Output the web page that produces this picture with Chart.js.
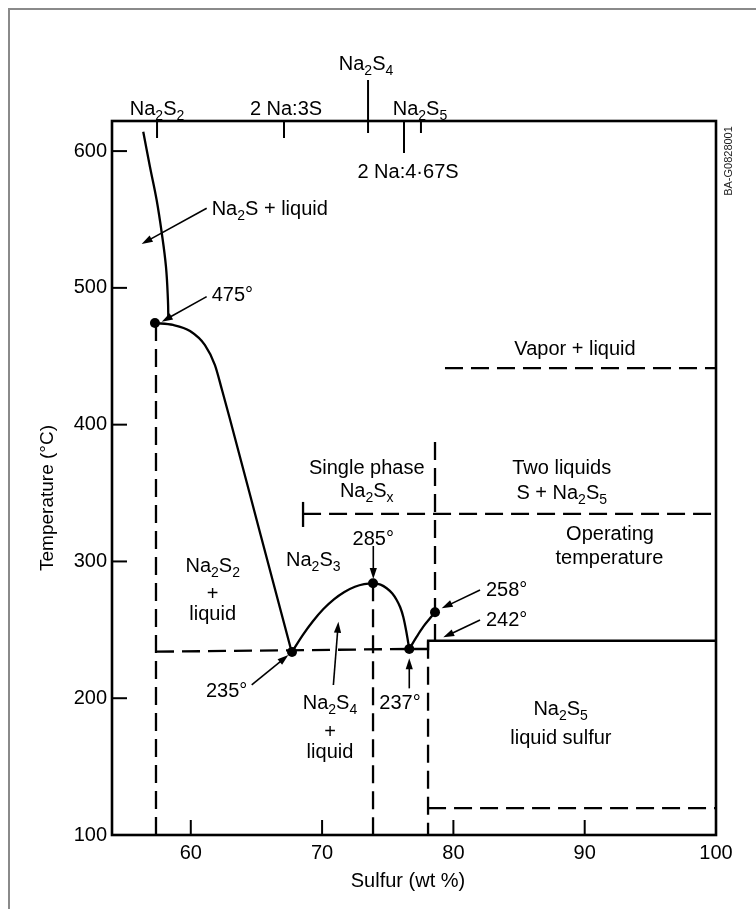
<!DOCTYPE html>
<html>
<head>
<meta charset="utf-8">
<script src="https://cdn.jsdelivr.net/npm/chart.js@4.4.1/dist/chart.umd.min.js"></script>
<style>
  html, body { margin: 0; padding: 0; background: #fff; }
  #frame { position: absolute; left: 8px; top: 8px; width: 760px; height: 920px;
           border-left: 2px solid #8a8a8a; border-top: 2px solid #8a8a8a; }
  #c { position: absolute; left: 0; top: 0; }
</style>
</head>
<body>
<div id="frame"></div>
<canvas id="c" width="756" height="909"></canvas>
<script>
// ---------- DATA (wt % sulfur, temperature °C) ----------
const xTickValues = [60, 70, 80, 90, 100];
const xTickLabels = ['60', '70', '80', '90', '100'];
const yTickValues = [100, 200, 300, 400, 500, 600];
const yTickLabels = ['100', '200', '300', '400', '500', '600'];

const upperLiquidus = [[56.38, 614.2], [56.89, 588.6], [57.40, 564.2], [57.79, 540.1], [58.11, 515.5], [58.26, 491.1], [58.29, 477.0]];
const lowerLiquidus = [[57.27, 474.3], [58.65, 472.9], [59.94, 468.5], [61.08, 458.2], [61.84, 443.6], [62.38, 425.3], [62.96, 404.9], [65.32, 319.3], [67.69, 233.6]];
const na2s4Dome = [[67.71, 233.8], [68.50, 245.8], [69.30, 256.3], [70.10, 265.2], [70.90, 272.3], [71.70, 277.7], [72.50, 281.5], [73.20, 283.4], [73.88, 284.0],
                   [74.45, 283.0], [74.92, 280.4], [75.35, 276.5], [75.68, 271.8], [75.95, 266.5], [76.18, 259.6], [76.40, 249.5], [76.64, 236.0]];
const na2s5Liquidus = [[76.64, 236.0], [77.21, 245.0], [77.71, 252.3], [78.22, 258.4], [78.60, 262.8]];
const solidStep = [[76.64, 236.0], [78.07, 236.0], [78.07, 242.0], [100, 242.0]];
const singlePhaseBar = [[68.55, 325.2], [68.55, 343.5]];

const eutecticLine = [[57.35, 234.0], [76.64, 236.0]];
const na2s2Vertical = [[57.35, 474.3], [57.35, 100]];
const na2s4Vertical = [[73.88, 284.0], [73.88, 100]];
const na2s5Vertical = [[78.07, 242.0], [78.07, 100]];
const twoLiquidVertical = [[78.60, 387.3], [78.60, 242.0]];
const singlePhaseLine = [[68.55, 334.7], [100, 334.7]];
const vaporLine = [[79.36, 441.4], [100, 441.4]];
const sulfurMeltLine = [[78.07, 119.7], [100, 119.7]];

const invariantPoints = [[57.27, 474.3], [73.88, 284.0], [67.71, 233.8], [76.64, 236.0], [78.60, 262.8]];

const compoundWt = [57.43, 67.10, 73.50, 76.24, 77.53];
const compoundLabels = ['Na_2S_2', '2 Na:3S', 'Na_2S_4', '2 Na:4·67S', 'Na_2S_5'];

const regionLabels = [
  ['Na_2S + liquid', 61.59, 558.2, 'left'],
  ['475°', 61.59, 495.5, 'left'],
  ['Vapor + liquid', 89.26, 456.4, 'center'],
  ['Single phase', 73.40, 369.0, 'center'],
  ['Na_2S_x', 73.40, 352.2, 'center'],
  ['Two liquids', 88.25, 369.3, 'center'],
  ['S + Na_2S_5', 88.25, 351.0, 'center'],
  ['Operating', 91.93, 320.8, 'center'],
  ['temperature', 91.88, 303.6, 'center'],
  ['285°', 73.90, 317.5, 'center'],
  ['Na_2S_3', 69.33, 301.8, 'center'],
  ['Na_2S_2', 61.67, 297.4, 'center'],
  ['+', 61.67, 276.9, 'center'],
  ['liquid', 61.67, 262.3, 'center'],
  ['258°', 82.48, 279.9, 'left'],
  ['242°', 82.48, 257.9, 'left'],
  ['235°', 62.73, 206.0, 'center'],
  ['Na_2S_4', 70.60, 197.5, 'center'],
  ['+', 70.60, 176.0, 'center'],
  ['liquid', 70.60, 161.4, 'center'],
  ['237°', 75.93, 197.5, 'center'],
  ['Na_2S_5', 88.17, 192.6, 'center'],
  ['liquid sulfur', 88.19, 172.0, 'center']
];

const arrows = [
  [61.21, 558.2, 56.26, 532.1],
  [61.21, 493.6, 57.79, 475.3],
  [73.90, 311.3, 73.90, 287.2],
  [82.03, 279.1, 79.11, 265.7],
  [82.03, 257.2, 79.23, 244.5],
  [64.64, 209.7, 67.43, 231.6],
  [70.86, 209.7, 71.24, 255.9],
  [76.64, 207.2, 76.64, 229.2]
];

// ---------- STYLE / LAYOUT ----------
const FONT = '"Liberation Sans", Arial, Helvetica, sans-serif';
const INK = '#000';
const DASH = [18, 8];
const TXT = 20;
// top-axis marker layout: tick from/to (px relative to top axis), label dx, label baseline
const compoundLayout = [
  { from: 0, to: 17, dx: 0, base: -6 },
  { from: 0, to: 17, dx: 2, base: -6 },
  { from: -41, to: 12, dx: -2, base: -51 },
  { from: 0, to: 32, dx: 4, base: 57 },
  { from: 0, to: 12, dx: -1, base: -6 }
];

const pts = arr => arr.map(p => ({ x: p[0], y: p[1] }));
function solid(arr, mode) {
  const d = { data: pts(arr), showLine: true, borderColor: INK, borderWidth: 2.3, pointRadius: 0, tension: 0, order: 2 };
  if (mode === 'monotone') d.cubicInterpolationMode = 'monotone';
  else if (typeof mode === 'number') d.tension = mode;
  return d;
}
function dashed(arr) {
  return { data: pts(arr), showLine: true, borderColor: INK, borderWidth: 2.3, pointRadius: 0,
           borderDash: DASH, tension: 0, order: 3 };
}

function parseRich(s) {
  const segs = []; let buf = ''; let i = 0;
  while (i < s.length) {
    if (s[i] === '_') {
      if (buf) { segs.push({ t: buf, sub: false }); buf = ''; }
      segs.push({ t: s[i + 1], sub: true }); i += 2;
    } else { buf += s[i]; i++; }
  }
  if (buf) segs.push({ t: buf, sub: false });
  return segs;
}
function drawRich(ctx, s, x, yBase, align, size) {
  size = size || TXT;
  const sub = Math.round(size * 0.7);
  const segs = parseRich(s);
  let w = 0;
  segs.forEach(g => { ctx.font = (g.sub ? sub : size) + 'px ' + FONT; g.w = ctx.measureText(g.t).width; w += g.w; });
  let cx = align === 'center' ? x - w / 2 : (align === 'right' ? x - w : x);
  ctx.textAlign = 'left'; ctx.textBaseline = 'alphabetic'; ctx.fillStyle = INK;
  segs.forEach(g => {
    ctx.font = (g.sub ? sub : size) + 'px ' + FONT;
    ctx.fillText(g.t, cx, g.sub ? yBase + 5 : yBase);
    cx += g.w;
  });
}
function seg(ctx, x1, y1, x2, y2) { ctx.beginPath(); ctx.moveTo(x1, y1); ctx.lineTo(x2, y2); ctx.stroke(); }
function arrowHead(ctx, x1, y1, x2, y2) {
  const a = Math.atan2(y2 - y1, x2 - x1), L = 11, W = 3.6;
  const bx = x2 - L * Math.cos(a), by = y2 - L * Math.sin(a);
  ctx.beginPath();
  ctx.moveTo(x2, y2);
  ctx.lineTo(bx + W * Math.sin(a), by - W * Math.cos(a));
  ctx.lineTo(bx - W * Math.sin(a), by + W * Math.cos(a));
  ctx.closePath(); ctx.fill();
}

const annotPlugin = {
  id: 'annot',
  afterDraw(chart) {
    const { ctx, chartArea: a } = chart;
    const xs = chart.scales.x, ys = chart.scales.y;
    const px = v => xs.getPixelForValue(v), py = v => ys.getPixelForValue(v);
    ctx.save();
    ctx.strokeStyle = INK; ctx.fillStyle = INK; ctx.setLineDash([]);
    // plot frame
    ctx.lineWidth = 2.6;
    ctx.strokeRect(a.left, a.top, a.right - a.left, a.bottom - a.top);
    // inward ticks
    ctx.lineWidth = 2;
    xs.ticks.forEach(t => { if (t.value > xs.min && t.value < xs.max) seg(ctx, px(t.value), a.bottom, px(t.value), a.bottom - 15); });
    ys.ticks.forEach(t => { if (t.value > ys.min && t.value < ys.max) seg(ctx, a.left, py(t.value), a.left + 15, py(t.value)); });
    // top compound markers
    compoundWt.forEach((w, i) => {
      const L = compoundLayout[i], X = px(w);
      ctx.lineWidth = 2;
      seg(ctx, X, a.top + L.from, X, a.top + L.to);
      drawRich(ctx, compoundLabels[i], X + L.dx, a.top + L.base, 'center');
    });
    // arrows
    ctx.lineWidth = 1.6;
    arrows.forEach(r => {
      const x1 = px(r[0]), y1 = py(r[1]), x2 = px(r[2]), y2 = py(r[3]);
      const ang = Math.atan2(y2 - y1, x2 - x1);
      seg(ctx, x1, y1, x2 - 8 * Math.cos(ang), y2 - 8 * Math.sin(ang));
      arrowHead(ctx, x1, y1, x2, y2);
    });
    // region labels
    regionLabels.forEach(l => drawRich(ctx, l[0], px(l[1]), py(l[2]) + 7, l[3]));
    // axis titles
    ctx.fillStyle = INK; ctx.textAlign = 'center'; ctx.textBaseline = 'middle';
    ctx.font = '20px ' + FONT;
    ctx.fillText('Sulfur (wt %)', 408, 881);
    ctx.font = '19px ' + FONT;
    ctx.save(); ctx.translate(48, 498); ctx.rotate(-Math.PI / 2);
    ctx.fillText('Temperature (°C)', 0, 0); ctx.restore();
    // drawing id
    ctx.save(); ctx.translate(729, 161); ctx.rotate(-Math.PI / 2);
    ctx.font = '11px ' + FONT; ctx.fillStyle = '#222';
    ctx.fillText('BA-G0828001', 0, 0); ctx.restore();
    ctx.restore();
  }
};

const datasets = [
  solid(upperLiquidus, 0.4),
  solid(lowerLiquidus, 'monotone'),
  solid(na2s4Dome, 'monotone'),
  solid(na2s5Liquidus, 'monotone'),
  solid(solidStep, 0),
  solid(singlePhaseBar, 0),
  dashed(eutecticLine),
  dashed(na2s2Vertical),
  dashed(na2s4Vertical),
  dashed(na2s5Vertical),
  dashed(twoLiquidVertical),
  dashed(singlePhaseLine),
  dashed(vaporLine),
  dashed(sulfurMeltLine),
  { data: pts(invariantPoints), showLine: false, pointRadius: 5, pointHoverRadius: 5,
    pointBackgroundColor: INK, pointBorderColor: INK, pointBorderWidth: 0, order: 1 }
];

new Chart(document.getElementById('c'), {
  type: 'scatter',
  data: { datasets },
  options: {
    responsive: false,
    animation: false,
    devicePixelRatio: 1,
    layout: { padding: { top: 121, right: 40, left: 0, bottom: 0 } },
    plugins: { legend: { display: false }, tooltip: { enabled: false }, title: { display: false } },
    scales: {
      x: {
        type: 'linear', min: 54, max: 100,
        afterBuildTicks: s => { s.ticks = xTickValues.map(v => ({ value: v })); },
        afterFit: s => { s.height = 74; },
        grid: { display: false, drawTicks: false },
        border: { display: false },
        ticks: { padding: 6, color: INK, font: { size: TXT, family: FONT }, maxRotation: 0,
                 callback: v => xTickLabels[xTickValues.indexOf(v)] }
      },
      y: {
        type: 'linear', min: 100, max: 622,
        afterBuildTicks: s => { s.ticks = yTickValues.map(v => ({ value: v })); },
        afterFit: s => { s.width = 112; },
        grid: { display: false, drawTicks: false },
        border: { display: false },
        ticks: { padding: 5, color: INK, font: { size: TXT, family: FONT },
                 callback: v => yTickLabels[yTickValues.indexOf(v)] }
      }
    }
  },
  plugins: [annotPlugin]
});
</script>
</body>
</html>
